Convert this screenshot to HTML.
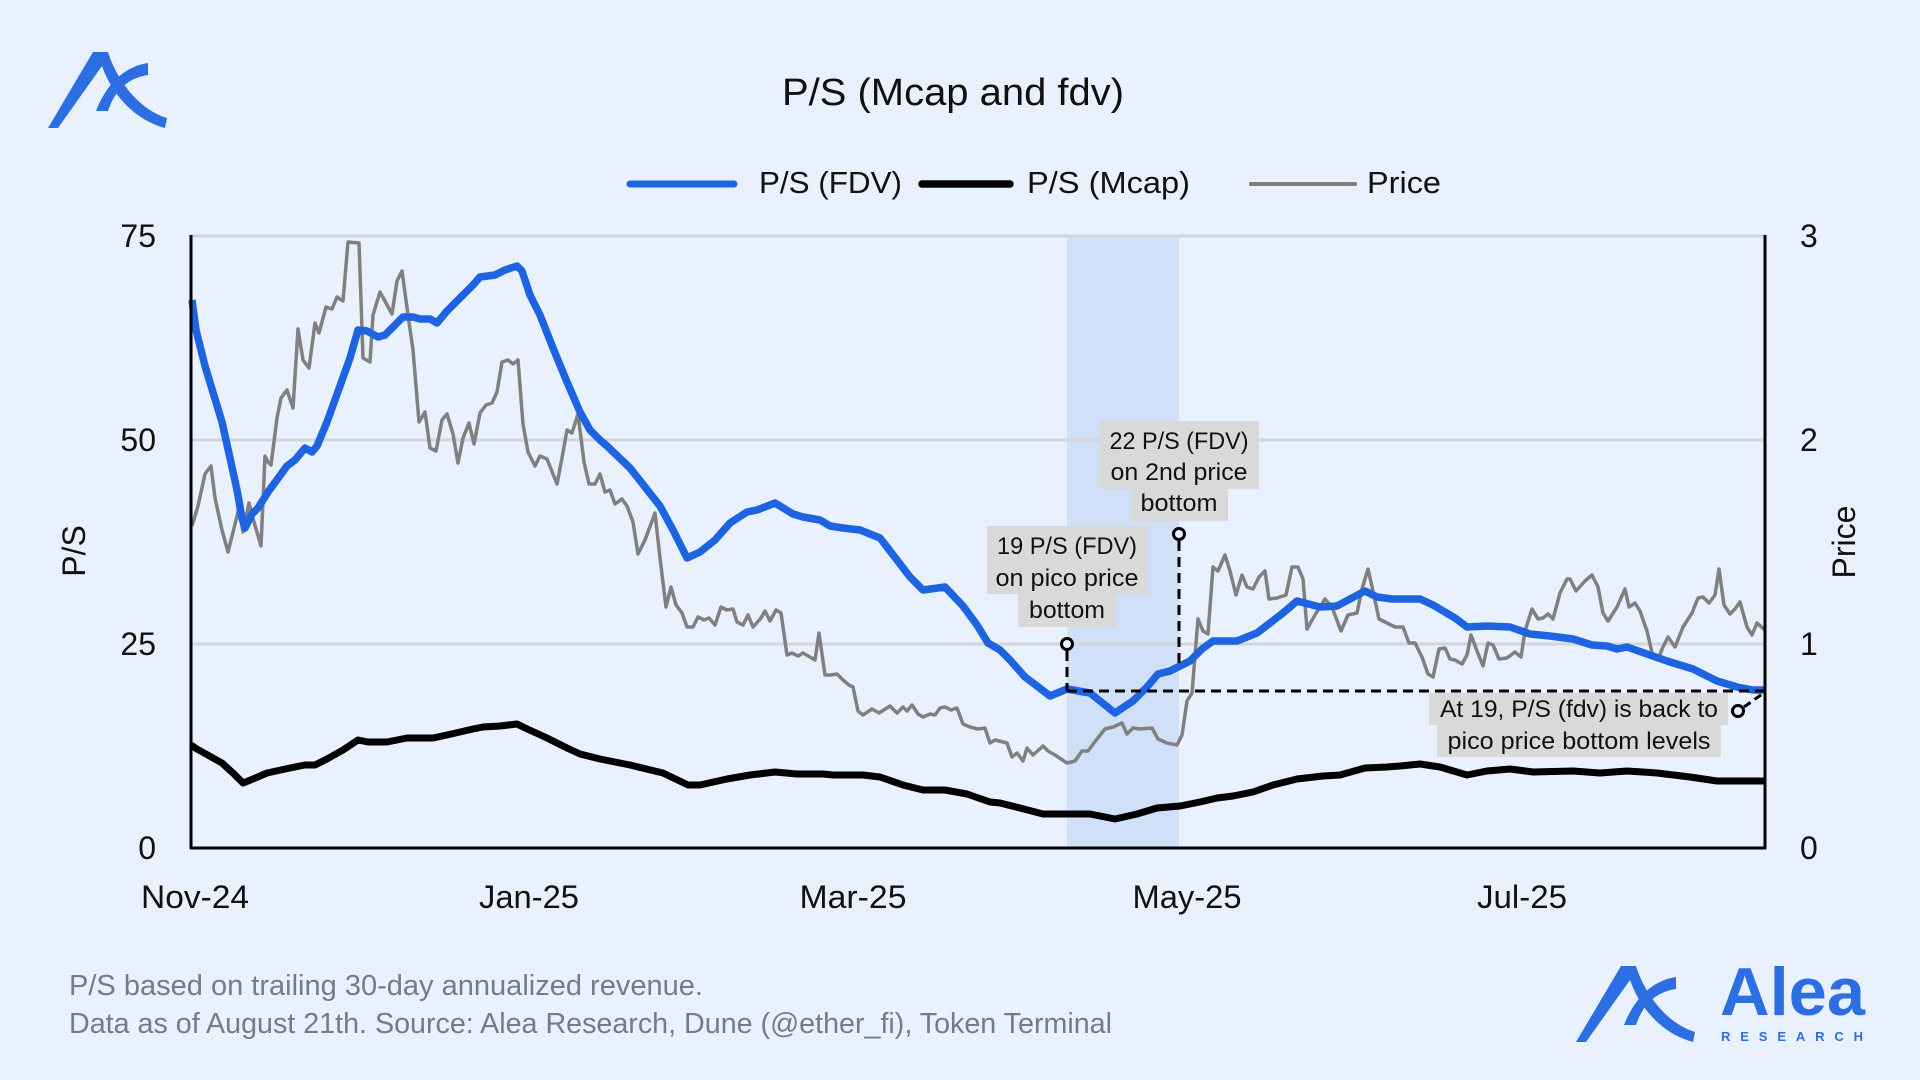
<!DOCTYPE html>
<html>
<head>
<meta charset="utf-8">
<style>
  html, body { margin:0; padding:0; background:#e8f1fd; }
  svg { display:block; }
  text { font-family: "Liberation Sans", Arial, sans-serif; }
</style>
</head>
<body>
<svg width="1920" height="1080" viewBox="0 0 1920 1080" xmlns="http://www.w3.org/2000/svg">
  <rect x="0" y="0" width="1920" height="1080" fill="#e8f1fd"/>

  <!-- top-left logo -->
  <g fill="#2d6fe3">
    <path d="M48,128 L93,52 L108,52 C115,75 135,108 167,118 L165,128 C135,120 112,95 102,66 L58,128 Z"/>
    <path d="M148,63 C128,66 108,80 96,111 L108,111 C115,90 128,78 148,75 Z"/>
  </g>

  <!-- title -->
  <text x="953" y="105" font-size="38" text-anchor="middle" fill="#111" textLength="342" lengthAdjust="spacingAndGlyphs">P/S (Mcap and fdv)</text>

  <!-- legend -->
  <line x1="630" y1="184" x2="734" y2="184" stroke="#1e64e1" stroke-width="7" stroke-linecap="round"/>
  <text x="759" y="193" font-size="31" fill="#111" textLength="143" lengthAdjust="spacingAndGlyphs">P/S (FDV)</text>
  <line x1="922" y1="184" x2="1010" y2="184" stroke="#000" stroke-width="7.5" stroke-linecap="round"/>
  <text x="1027" y="193" font-size="31" fill="#111" textLength="163" lengthAdjust="spacingAndGlyphs">P/S (Mcap)</text>
  <line x1="1251" y1="184" x2="1355" y2="184" stroke="#808080" stroke-width="4" stroke-linecap="round"/>
  <text x="1367" y="193" font-size="31" fill="#111" textLength="74" lengthAdjust="spacingAndGlyphs">Price</text>

  <!-- shaded band -->
  <rect x="1067" y="237" width="112" height="611" fill="#cfe0f8"/>

  <!-- gridlines -->
  <g stroke="#d2d5d9" stroke-width="3">
    <line x1="191" y1="236" x2="1765" y2="236"/>
    <line x1="191" y1="440" x2="1765" y2="440"/>
    <line x1="191" y1="644" x2="1765" y2="644"/>
  </g>

  <!-- price (gray) -->
  <polyline fill="none" stroke="#808080" stroke-width="3.5" stroke-linejoin="round" points="192,526 198,506 205,474 211,466 215,498 222,530 228,552 233,532 239,508 243,532 249,503 254,522 261,546 265,456 268,462 271,465 277,418 281,398 287,390 293,408 298,329 303,360 309,368 315,323 319,333 326,307 332,309 337,297 343,301 348,242 359,243 363,358 370,362 373,315 380,292 386,303 392,314 397,281 402,271 408,315 413,350 419,422 425,412 430,448 436,451 442,420 447,414 453,434 458,463 463,438 469,423 474,444 480,413 486,405 492,403 497,392 502,362 508,360 513,364 518,360 523,424 528,452 535,466 540,456 547,459 557,484 562,458 567,430 572,433 578,414 584,462 589,484 595,484 600,474 605,492 610,490 615,504 622,499 627,506 633,522 638,554 645,540 655,513 660,558 666,607 671,587 676,605 682,613 687,627 693,627 698,617 704,620 709,618 715,625 721,607 727,610 733,609 737,622 743,625 748,615 753,627 761,618 765,611 770,621 776,610 781,613 787,655 792,653 798,656 803,653 810,657 815,660 819,633 825,675 831,675 837,674 843,680 849,685 853,687 858,711 863,715 872,709 879,713 890,706 897,713 903,707 907,711 912,705 918,714 923,717 930,714 935,715 940,708 945,707 951,710 957,708 963,724 970,727 978,729 985,728 990,743 995,740 1007,743 1012,757 1017,753 1023,761 1027,748 1033,755 1043,746 1048,751 1055,755 1067,763 1075,761 1082,751 1088,751 1097,739 1105,729 1113,727 1122,723 1127,734 1133,728 1140,729 1152,728 1158,739 1167,743 1177,745 1182,735 1187,701 1192,693 1198,619 1203,631 1208,634 1213,567 1218,571 1225,555 1230,571 1236,595 1242,575 1247,587 1253,589 1259,577 1265,571 1269,599 1277,598 1286,595 1292,567 1298,567 1303,579 1307,629 1315,615 1325,599 1332,607 1341,631 1348,615 1357,613 1362,589 1368,569 1373,591 1379,619 1387,623 1395,627 1403,627 1409,643 1415,643 1422,657 1428,674 1433,677 1439,649 1445,648 1450,659 1455,660 1462,664 1467,655 1471,635 1477,651 1483,666 1488,643 1493,645 1499,659 1507,658 1515,652 1521,657 1525,631 1532,609 1538,619 1543,618 1548,614 1553,619 1560,593 1567,579 1570,579 1576,591 1585,581 1592,575 1598,587 1603,613 1608,621 1617,607 1625,589 1629,607 1635,603 1640,611 1647,631 1653,657 1658,659 1663,647 1668,637 1675,647 1683,627 1692,613 1698,598 1703,597 1709,603 1715,595 1719,569 1724,605 1730,614 1735,609 1740,602 1747,627 1752,635 1757,623 1765,630"/>

  <!-- P/S Mcap (black) -->
  <polyline fill="none" stroke="#000" stroke-width="7" stroke-linejoin="round" points="191,745 197,749 222,763 233,773 243,783 253,779 267,773 290,768 305,765 315,765 327,759 343,750 358,740 368,742 387,742 407,738 433,738 447,735 473,729 483,727 500,726 517,724 523,727 547,738 567,748 580,754 600,759 630,765 663,773 688,785 700,785 727,779 750,775 775,772 797,774 823,774 833,775 863,775 880,777 903,785 923,790 945,790 967,794 990,802 1000,803 1020,808 1043,814 1067,814 1090,814 1115,819 1137,814 1157,808 1180,806 1200,802 1217,798 1233,796 1253,792 1273,785 1297,779 1323,776 1340,775 1365,768 1387,767 1400,766 1420,764 1440,767 1467,775 1487,771 1510,769 1533,772 1573,771 1600,773 1627,771 1657,773 1690,777 1717,781 1737,781 1765,781"/>

  <!-- P/S FDV (blue) -->
  <polyline fill="none" stroke="#1e64e1" stroke-width="7.5" stroke-linejoin="round" points="192,300 196,330 205,366 222,422 230,458 237,490 242,518 245,528 252,514 258,508 268,492 287,466 295,460 305,448 312,452 317,446 327,422 340,386 350,358 358,330 367,331 378,337 385,335 393,327 403,317 413,317 420,319 430,319 437,323 447,311 463,295 473,285 480,277 495,275 505,270 517,266 522,271 530,295 540,315 553,348 567,382 580,412 590,430 600,440 607,446 630,468 660,506 673,530 687,558 700,552 715,540 730,523 747,512 757,510 775,503 793,514 803,517 820,520 830,526 843,528 860,530 880,538 897,560 910,577 923,590 945,587 963,606 977,625 988,643 1000,650 1010,660 1025,677 1037,686 1050,696 1067,689 1090,693 1100,701 1115,713 1133,701 1147,687 1158,674 1170,671 1190,661 1202,649 1213,641 1237,641 1257,633 1283,613 1297,601 1320,607 1337,606 1350,599 1365,591 1377,597 1392,599 1420,599 1433,605 1455,618 1467,627 1487,626 1510,627 1530,634 1550,636 1573,639 1592,645 1607,646 1617,649 1627,647 1647,654 1667,661 1693,669 1717,681 1737,687 1753,690 1765,690"/>

  <!-- axes -->
  <g stroke="#000" stroke-width="3">
    <line x1="191" y1="235" x2="191" y2="849"/>
    <line x1="1765" y1="235" x2="1765" y2="849"/>
    <line x1="190" y1="848" x2="1766" y2="848"/>
  </g>

  <!-- left ticks -->
  <g font-size="32" fill="#111" text-anchor="end">
    <text x="156" y="247">75</text>
    <text x="156" y="451">50</text>
    <text x="156" y="655">25</text>
    <text x="156" y="859">0</text>
  </g>
  <!-- right ticks -->
  <g font-size="32" fill="#111" text-anchor="start">
    <text x="1800" y="247">3</text>
    <text x="1800" y="451">2</text>
    <text x="1800" y="655">1</text>
    <text x="1800" y="859">0</text>
  </g>
  <!-- axis titles -->
  <text transform="translate(85,551) rotate(-90)" font-size="32" fill="#111" text-anchor="middle">P/S</text>
  <text transform="translate(1855,542) rotate(-90)" font-size="32" fill="#111" text-anchor="middle">Price</text>

  <!-- x labels -->
  <g font-size="32" fill="#111" text-anchor="middle">
    <text x="195" y="908" textLength="108" lengthAdjust="spacingAndGlyphs">Nov-24</text>
    <text x="529" y="908" textLength="100" lengthAdjust="spacingAndGlyphs">Jan-25</text>
    <text x="853" y="908" textLength="107" lengthAdjust="spacingAndGlyphs">Mar-25</text>
    <text x="1187" y="908" textLength="109" lengthAdjust="spacingAndGlyphs">May-25</text>
    <text x="1522" y="908" textLength="90" lengthAdjust="spacingAndGlyphs">Jul-25</text>
  </g>

  <!-- annotation connectors -->
  <g stroke="#000" stroke-width="3" fill="none" stroke-dasharray="10 6">
    <line x1="1067" y1="651" x2="1067" y2="691"/>
    <line x1="1067" y1="691" x2="1765" y2="691"/>
    <line x1="1179" y1="541" x2="1179" y2="665"/>
    <line x1="1744" y1="707" x2="1765" y2="692" stroke-dasharray="8 5"/>
  </g>
  <g stroke="#000" stroke-width="3" fill="#e8f1fd">
    <circle cx="1067" cy="644" r="5.5"/>
    <circle cx="1179" cy="534" r="5.5"/>
    <circle cx="1738" cy="711" r="5.5"/>
  </g>

  <!-- annotation box 1 -->
  <rect x="987" y="526" width="161" height="68" fill="#d9d9d9"/>
  <rect x="1018" y="594" width="98" height="33" fill="#d9d9d9"/>
  <g font-size="24" fill="#111" text-anchor="middle">
    <text x="1067" y="554" textLength="140" lengthAdjust="spacingAndGlyphs">19 P/S (FDV)</text>
    <text x="1067" y="586" textLength="143" lengthAdjust="spacingAndGlyphs">on pico price</text>
    <text x="1067" y="618" textLength="76" lengthAdjust="spacingAndGlyphs">bottom</text>
  </g>

  <!-- annotation box 2 -->
  <rect x="1099" y="421" width="160" height="68" fill="#d9d9d9"/>
  <rect x="1131" y="489" width="97" height="32" fill="#d9d9d9"/>
  <g font-size="24" fill="#111" text-anchor="middle">
    <text x="1179" y="449" textLength="139" lengthAdjust="spacingAndGlyphs">22 P/S (FDV)</text>
    <text x="1179" y="480" textLength="137" lengthAdjust="spacingAndGlyphs">on 2nd price</text>
    <text x="1179" y="511" textLength="77" lengthAdjust="spacingAndGlyphs">bottom</text>
  </g>

  <!-- annotation box 3 -->
  <rect x="1429" y="693" width="299" height="32" fill="#d9d9d9"/>
  <rect x="1437" y="725" width="284" height="32" fill="#d9d9d9"/>
  <g font-size="24" fill="#111" text-anchor="middle">
    <text x="1579" y="717" textLength="278" lengthAdjust="spacingAndGlyphs">At 19, P/S (fdv) is back to</text>
    <text x="1579" y="749" textLength="263" lengthAdjust="spacingAndGlyphs">pico price bottom levels</text>
  </g>

  <!-- footer -->
  <g font-size="29" fill="#767c85">
    <text x="69" y="995" textLength="634" lengthAdjust="spacingAndGlyphs">P/S based on trailing 30-day annualized revenue.</text>
    <text x="69" y="1033" textLength="1043" lengthAdjust="spacingAndGlyphs">Data as of August 21th. Source: Alea Research, Dune (@ether_fi), Token Terminal</text>
  </g>

  <!-- bottom-right logo -->
  <g fill="#2d6fe3" transform="translate(1528,914)">
    <path d="M48,128 L93,52 L108,52 C115,75 135,108 167,118 L165,128 C135,120 112,95 102,66 L58,128 Z"/>
    <path d="M148,63 C128,66 108,80 96,111 L108,111 C115,90 128,78 148,75 Z"/>
  </g>
  <text x="1720" y="1015" font-size="68" font-weight="bold" fill="#2d6fe3" textLength="145" lengthAdjust="spacingAndGlyphs">Alea</text>
  <text x="1721" y="1041" font-size="13" font-weight="bold" fill="#2d6fe3" textLength="142" lengthAdjust="spacing">RESEARCH</text>
</svg>
</body>
</html>
